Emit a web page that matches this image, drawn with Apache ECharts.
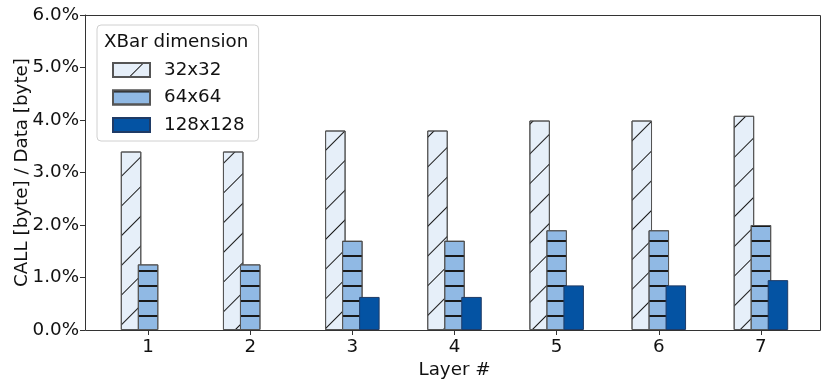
<!DOCTYPE html>
<html>
<head>
<meta charset="utf-8">
<script src="https://cdn.jsdelivr.net/npm/echarts@6/dist/echarts.min.js"></script>
<style>
  html, body { margin: 0; padding: 0; background: #fff; }
  #chart { width: 830px; height: 389px; }
</style>
</head>
<body>
<div id="chart"></div>
<script>
// layers on the x axis
var layers = ['1', '2', '3', '4', '5', '6', '7'];
// CALL / Data ratio in percent, per crossbar size
var xbar32 = [3.40, 3.40, 3.80, 3.80, 3.99, 3.99, 4.08];
var xbar64 = [1.25, 1.25, 1.70, 1.70, 1.90, 1.90, 2.00];
var xbar128 = [0, 0, 0.63, 0.63, 0.85, 0.85, 0.95];
var seriesNames = ['32x32', '64x64', '128x128'];

var font = 'DejaVu Sans';
var fs = 18.3;
var chart = echarts.init(document.getElementById('chart'), null, { renderer: 'canvas' });

var edge = { borderColor: '#555', borderWidth: 1 };

// zero-height bars get no outline (nothing visible in the original)
function noZeroEdge(arr) {
  return arr.map(function (v) {
    return v === 0 ? { value: v, itemStyle: { borderWidth: 0 } } : v;
  });
}

var option = {
  backgroundColor: '#ffffff',
  animation: false,
  grid: { left: 97, right: 18, top: 15, bottom: 59, containLabel: false, outerBoundsMode: 'none' },
  title: {
    text: 'XBar dimension',
    left: 104, top: 33, padding: 0,
    textStyle: { fontFamily: font, fontSize: fs, fontWeight: 'normal', color: '#111' }
  },
  legend: {
    data: seriesNames,
    orient: 'vertical',
    left: 97, top: 25,
    width: 140,
    padding: [36, 14, 7, 15],
    itemGap: 9.5,
    itemWidth: 37,
    itemHeight: 14,
    icon: 'rect',
    borderColor: '#d0d0d0',
    borderWidth: 1,
    borderRadius: 4,
    backgroundColor: 'rgba(255,255,255,0.85)',
    textStyle: { fontFamily: font, fontSize: fs, color: '#111', padding: [0, 0, 0, 9] }
  },
  xAxis: {
    type: 'category',
    data: layers,
    name: 'Layer #',
    nameLocation: 'middle',
    nameGap: 31,
    nameMoveOverlap: false,
    nameTextStyle: { fontFamily: font, fontSize: fs, color: '#111' },
    axisLine: { show: false },
    axisTick: { show: true, alignWithLabel: true, length: 5, lineStyle: { color: '#333' } },
    axisLabel: { fontFamily: font, fontSize: fs, color: '#111', margin: 8 },
    splitLine: { show: false }
  },
  yAxis: {
    type: 'value',
    min: 0, max: 6, interval: 1,
    offset: 12,
    name: 'CALL [byte] / Data [byte]',
    nameLocation: 'middle',
    nameGap: 54,
    nameMoveOverlap: false,
    nameTextStyle: { fontFamily: font, fontSize: fs, color: '#111' },
    axisLine: { show: true, lineStyle: { color: '#333' } },
    axisTick: { show: true, length: 5, lineStyle: { color: '#333' } },
    axisLabel: {
      fontFamily: font, fontSize: fs, color: '#111', margin: 6,
      formatter: function (v) { return v.toFixed(1) + '%'; }
    },
    splitLine: { show: false }
  },
  graphic: [{
    type: 'rect',
    z: 100,
    silent: true,
    shape: { x: 85.5, y: 15.5, width: 735, height: 315 },
    style: { fill: 'none', stroke: '#333', lineWidth: 1 }
  }],
  series: [
    {
      name: seriesNames[0], type: 'bar', data: noZeroEdge(xbar32),
      barWidth: 20.5, barGap: '-17%',
      itemStyle: Object.assign({
        color: '#e6eff9',
        decal: {
          symbol: 'rect', symbolSize: 1, color: '#1a1a1a',
          dashArrayX: [1, 0], dashArrayY: [1, 19.2],
          rotation: -Math.PI / 4
        }
      }, edge)
    },
    {
      name: seriesNames[1], type: 'bar', data: noZeroEdge(xbar64),
      barWidth: 20.5,
      itemStyle: Object.assign({
        color: '#90b9e4',
        decal: {
          symbol: 'rect', symbolSize: 1, color: '#1a1a1a',
          dashArrayX: [1, 0], dashArrayY: [1.3, 13],
          rotation: 0
        }
      }, edge)
    },
    {
      name: seriesNames[2], type: 'bar', data: noZeroEdge(xbar128),
      barWidth: 20.5,
      itemStyle: { color: '#0453a3', borderColor: '#1f3b66', borderWidth: 1 }
    }
  ]
};

chart.setOption(option);
</script>
</body>
</html>
